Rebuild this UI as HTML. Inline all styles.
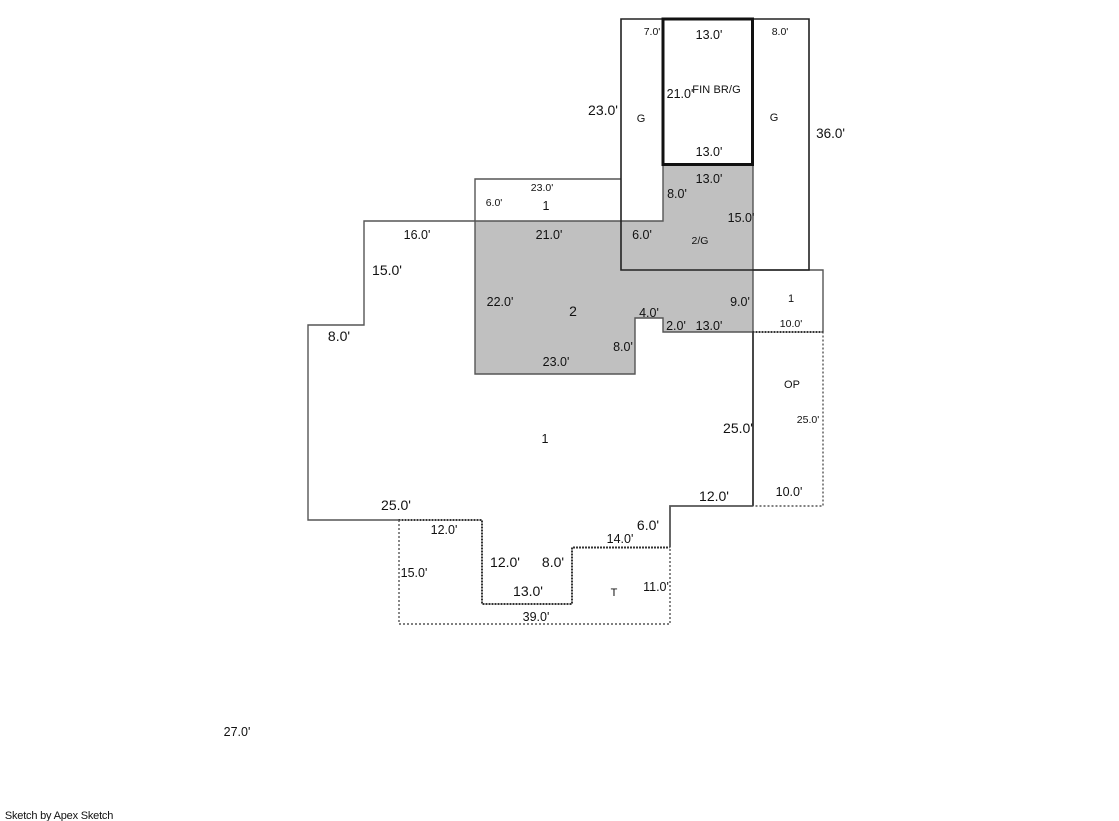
<!DOCTYPE html>
<html>
<head>
<meta charset="utf-8">
<title>Sketch by Apex Sketch</title>
<style>
html,body{margin:0;padding:0;background:#fff;width:1119px;height:821px;overflow:hidden}
svg{display:block}
text{font-family:"Liberation Sans",sans-serif;fill:#111;text-anchor:middle}
.l{font-size:14px}
.m{font-size:12.5px}
.s{font-size:10.5px}
.z{font-size:11px}
</style>
</head>
<body>
<svg width="1119" height="821" viewBox="0 0 1119 821" xmlns="http://www.w3.org/2000/svg">
<rect width="1119" height="821" fill="#fff"/>
<g transform="translate(-0.5,-0.5)">
<path d="M475.5 221.5H663.5V165H753.5V332.5H663.5V318.5H635.5V374.5H475.5Z" fill="#c0c0c0" stroke="#555" stroke-width="1.4"/>
<g fill="none" stroke="#555" stroke-width="1.4">
<path d="M475.5 221.5H364.5V325.5H308.5V520.5H399"/>
<path d="M475.5 221.5V179.5H621"/>
<path d="M753.5 270.5H823.5V332.5"/>
<path d="M670.5 548V506.5H753" stroke-width="1.8"/>
<path d="M753.5 332V506.5" stroke="#333" stroke-width="1.8"/>
</g>
<g fill="none" stroke="#333" stroke-width="2" stroke-dasharray="2 1">
<path d="M399 520.5H482.5V604.5H572.5V548H670"/>
<path d="M753 332.5H823"/>
</g>
<g fill="none" stroke="#555" stroke-width="1.4" stroke-dasharray="2 2">
<path d="M399.5 520.5V624.5H670.5V548"/>
<path d="M823.5 332V506.5H753"/>
</g>
<path d="M621.5 19.5H809.5V270.5H621.5Z" fill="none" stroke="#222" stroke-width="1.6"/>
<path d="M663.5 19.5H753V165H663.5Z" fill="none" stroke="#111" stroke-width="3"/>
</g>

<text class="s" x="652" y="35">7.0'</text>
<text class="s" x="780" y="35">8.0'</text>
<text class="m" x="709" y="39">13.0'</text>
<text class="m" x="680" y="98">21.0'</text>
<text class="z" x="716.5" y="93" style="letter-spacing:0.1px">FIN BR/G</text>
<text class="l" x="603" y="115">23.0'</text>
<text class="z" x="641" y="122">G</text>
<text class="z" x="774" y="121">G</text>
<text class="m" x="830.5" y="138" style="font-size:13.5px">36.0'</text>
<text class="m" x="709" y="156">13.0'</text>
<text class="m" x="709" y="183">13.0'</text>
<text class="m" x="677" y="198">8.0'</text>
<text class="m" x="741" y="222">15.0'</text>
<text class="m" x="642" y="239">6.0'</text>
<text class="s" x="700" y="244">2/G</text>

<text class="s" x="542" y="191">23.0'</text>
<text class="s" x="494" y="206">6.0'</text>
<text class="m" x="546" y="210">1</text>
<text class="m" x="549" y="239">21.0'</text>
<text class="m" x="417" y="239">16.0'</text>
<text class="l" x="387" y="275">15.0'</text>
<text class="m" x="500" y="306">22.0'</text>
<text class="l" x="573" y="316">2</text>
<text class="m" x="649" y="317">4.0'</text>
<text class="m" x="740" y="306">9.0'</text>
<text class="z" x="791" y="302">1</text>
<text class="m" x="676" y="330">2.0'</text>
<text class="m" x="709" y="330">13.0'</text>
<text class="s" x="791" y="327">10.0'</text>
<text class="l" x="339" y="341">8.0'</text>
<text class="m" x="623" y="351">8.0'</text>
<text class="m" x="556" y="366">23.0'</text>
<text class="z" x="792" y="388">OP</text>
<text class="s" x="808" y="423">25.0'</text>
<text class="l" x="738" y="433">25.0'</text>
<text class="m" x="545" y="443">1</text>
<text class="m" x="789" y="496">10.0'</text>
<text class="l" x="714" y="501">12.0'</text>
<text class="l" x="396" y="510">25.0'</text>
<text class="l" x="648" y="530">6.0'</text>
<text class="m" x="444" y="534">12.0'</text>
<text class="m" x="620" y="543">14.0'</text>
<text class="l" x="505" y="567">12.0'</text>
<text class="l" x="553" y="567">8.0'</text>
<text class="m" x="414" y="577">15.0'</text>
<text class="m" x="656" y="591">11.0'</text>
<text class="l" x="528" y="596">13.0'</text>
<text class="z" x="614" y="596">T</text>
<text class="m" x="536" y="621">39.0'</text>
<text class="m" x="237" y="736">27.0'</text>
<text x="59" y="819" style="font-size:11px;letter-spacing:-0.2px">Sketch by Apex Sketch</text>
</svg>
</body>
</html>
